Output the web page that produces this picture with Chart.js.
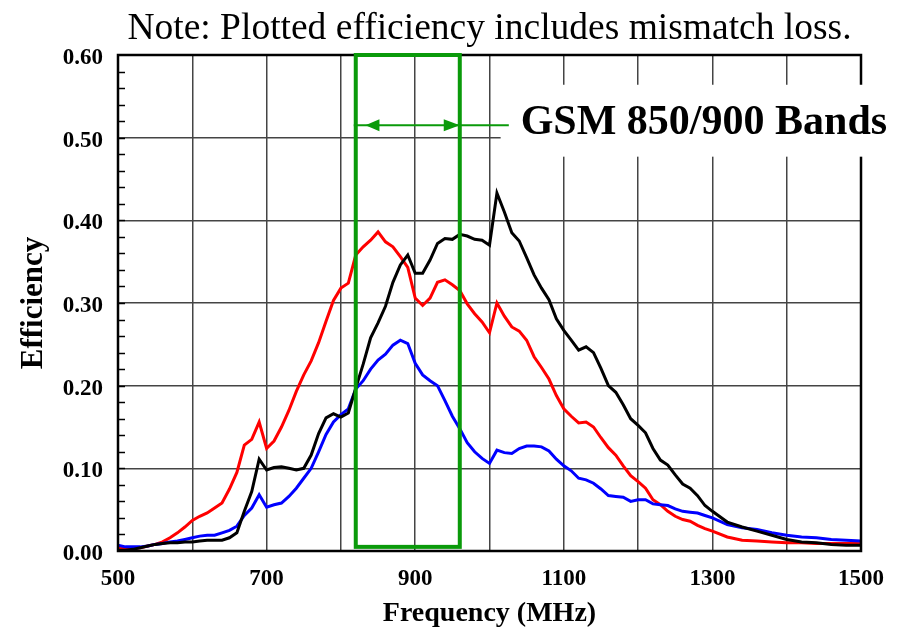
<!DOCTYPE html>
<html>
<head>
<meta charset="utf-8">
<script src="https://cdn.jsdelivr.net/npm/chart.js@4.4.1/dist/chart.umd.min.js"></script>
<style>
  html, body { margin: 0; padding: 0; background: #fff; }
  #wrap { width: 909px; height: 628px; }
</style>
</head>
<body>
<div id="wrap"><canvas id="myChart" width="909" height="628"></canvas></div>
<script>
// frequency points (MHz)
const freqMHz = [500, 510, 520, 530, 540, 550, 560, 570, 580, 590,
  600, 610, 620, 630, 640, 650, 660, 670, 680, 690,
  700, 710, 720, 730, 740, 750, 760, 770, 780, 790,
  800, 810, 820, 830, 840, 850, 860, 870, 880, 890,
  900, 910, 920, 930, 940, 950, 960, 970, 980, 990,
  1000, 1010, 1020, 1030, 1040, 1050, 1060, 1070, 1080, 1090,
  1100, 1110, 1120, 1130, 1140, 1150, 1160, 1170, 1180, 1190,
  1200, 1210, 1220, 1230, 1240, 1250, 1260, 1270, 1280, 1290,
  1300, 1320, 1340, 1360, 1380, 1400, 1420, 1440, 1460, 1480, 1500];

const effBlack = [0.001, 0.001, 0.002, 0.004, 0.006, 0.008, 0.009, 0.010, 0.010, 0.011,
  0.011, 0.012, 0.013, 0.013, 0.013, 0.016, 0.022, 0.048, 0.072, 0.111,
  0.098, 0.101, 0.102, 0.100, 0.098, 0.100, 0.116, 0.142, 0.161, 0.166,
  0.162, 0.167, 0.197, 0.226, 0.258, 0.276, 0.296, 0.325, 0.346, 0.358,
  0.336, 0.336, 0.352, 0.372, 0.378, 0.377, 0.383, 0.381, 0.377, 0.376,
  0.370, 0.433, 0.410, 0.385, 0.375, 0.355, 0.334, 0.318, 0.304, 0.281,
  0.267, 0.255, 0.243, 0.247, 0.240, 0.221, 0.200, 0.192, 0.177, 0.160,
  0.152, 0.143, 0.124, 0.110, 0.104, 0.092, 0.081, 0.076, 0.067, 0.055,
  0.048, 0.035, 0.029, 0.024, 0.019, 0.014, 0.011, 0.010, 0.008, 0.007, 0.007];

const effRed = [0.003, 0.003, 0.003, 0.004, 0.006, 0.008, 0.011, 0.016, 0.022, 0.029,
  0.037, 0.042, 0.046, 0.052, 0.058, 0.075, 0.095, 0.128, 0.135, 0.156,
  0.124, 0.133, 0.150, 0.170, 0.193, 0.213, 0.230, 0.252, 0.278, 0.303,
  0.318, 0.324, 0.358, 0.368, 0.376, 0.386, 0.374, 0.368, 0.356, 0.343,
  0.306, 0.297, 0.306, 0.325, 0.328, 0.322, 0.315, 0.299, 0.287, 0.277,
  0.264, 0.300, 0.284, 0.271, 0.266, 0.255, 0.235, 0.222, 0.208, 0.188,
  0.172, 0.163, 0.155, 0.156, 0.150, 0.137, 0.125, 0.116, 0.103, 0.091,
  0.084, 0.076, 0.062, 0.056, 0.048, 0.042, 0.038, 0.036, 0.031, 0.027,
  0.024, 0.017, 0.013, 0.012, 0.011, 0.010, 0.010, 0.009, 0.009, 0.009, 0.009];

const effBlue = [0.007, 0.005, 0.005, 0.005, 0.006, 0.008, 0.009, 0.011, 0.012, 0.014,
  0.016, 0.018, 0.019, 0.019, 0.022, 0.025, 0.030, 0.043, 0.052, 0.068,
  0.053, 0.056, 0.058, 0.066, 0.076, 0.088, 0.100, 0.120, 0.141, 0.156,
  0.165, 0.172, 0.196, 0.206, 0.220, 0.231, 0.238, 0.249, 0.255, 0.251,
  0.227, 0.213, 0.206, 0.200, 0.182, 0.163, 0.148, 0.131, 0.120, 0.112,
  0.106, 0.122, 0.119, 0.118, 0.124, 0.127, 0.127, 0.126, 0.121, 0.111,
  0.103, 0.097, 0.088, 0.086, 0.082, 0.075, 0.067, 0.066, 0.065, 0.060,
  0.062, 0.062, 0.057, 0.056, 0.055, 0.051, 0.048, 0.047, 0.046, 0.043,
  0.040, 0.032, 0.028, 0.026, 0.022, 0.019, 0.017, 0.016, 0.014, 0.013, 0.012];

const xTickLabels = [500, 700, 900, 1100, 1300, 1500];
const gsmBand = [820, 960];          // MHz, green box
const gsmLabel = 'GSM 850/900 Bands';

const serif = "'Liberation Serif', 'Times New Roman', serif";
const green = '#0a9a0a';

function pts(vals) {
  return freqMHz.map((f, i) => ({ x: f, y: vals[i] }));
}

// border, minor ticks and the GSM band marker
const bandPlugin = {
  id: 'gsmBand',
  afterDatasetsDraw(chart) {
    const ctx = chart.ctx;
    const a = chart.chartArea;
    const xs = chart.scales.x, ys = chart.scales.y;
    ctx.save();

    // minor ticks on the left axis
    ctx.strokeStyle = '#000';
    ctx.lineWidth = 1.5;
    for (let v = 0.02; v < 0.6; v += 0.02) {
      const py = Math.round(ys.getPixelForValue(v)) + 0.5;
      ctx.beginPath();
      ctx.moveTo(a.left, py);
      ctx.lineTo(a.left + 7, py);
      ctx.stroke();
    }

    // plot frame
    ctx.lineWidth = 2.5;
    ctx.strokeRect(a.left, a.top, a.right - a.left, a.bottom - a.top);

    // white box behind the label
    const bx = xs.getPixelForValue(1015);
    const by0 = ys.getPixelForValue(0.564);
    const by1 = ys.getPixelForValue(0.477);
    ctx.fillStyle = '#fff';
    ctx.fillRect(bx, by0, chart.width - bx, by1 - by0);

    // green band box
    const gx0 = xs.getPixelForValue(gsmBand[0]);
    const gx1 = xs.getPixelForValue(gsmBand[1]);
    const gTop = ys.getPixelForValue(0.6);
    const gBot = ys.getPixelForValue(0.005);
    ctx.strokeStyle = green;
    ctx.lineWidth = 4;
    ctx.strokeRect(gx0, gTop, gx1 - gx0, gBot - gTop);

    // double arrow
    const ay = ys.getPixelForValue(0.515);
    const lx0 = gx0 - 2;
    const lx1 = xs.getPixelForValue(1026);
    ctx.lineWidth = 2;
    ctx.beginPath();
    ctx.moveTo(lx0, ay);
    ctx.lineTo(lx1, ay);
    ctx.stroke();
    ctx.fillStyle = green;
    const tipL = xs.getPixelForValue(833);
    ctx.beginPath();
    ctx.moveTo(tipL, ay);
    ctx.lineTo(tipL + 14, ay - 6);
    ctx.lineTo(tipL + 14, ay + 6);
    ctx.closePath();
    ctx.fill();
    const tipR = gx1;
    ctx.beginPath();
    ctx.moveTo(tipR, ay);
    ctx.lineTo(tipR - 16, ay - 6);
    ctx.lineTo(tipR - 16, ay + 6);
    ctx.closePath();
    ctx.fill();

    // label
    ctx.fillStyle = '#000';
    ctx.font = 'bold 42px ' + serif;
    ctx.textAlign = 'left';
    ctx.textBaseline = 'middle';
    ctx.fillText(gsmLabel, xs.getPixelForValue(1042), ys.getPixelForValue(0.518));
    ctx.restore();
  }
};

new Chart(document.getElementById('myChart'), {
  type: 'line',
  data: {
    datasets: [
      { label: 'Black', data: pts(effBlack), borderColor: '#000000' },
      { label: 'Blue', data: pts(effBlue), borderColor: '#0000ff' },
      { label: 'Red', data: pts(effRed), borderColor: '#ff0000' }
    ]
  },
  options: {
    responsive: false,
    animation: false,
    layout: { padding: { top: 0, right: 48, bottom: 0, left: 0 } },
    elements: {
      line: { borderWidth: 3, tension: 0, fill: false },
      point: { radius: 0 }
    },
    plugins: {
      legend: { display: false },
      tooltip: { enabled: false },
      title: {
        display: true,
        fullSize: false,
        text: 'Note: Plotted efficiency includes mismatch loss.',
        color: '#000',
        font: { family: serif, size: 37.5, weight: 'normal', lineHeight: 1.2 },
        padding: { top: 6.5, bottom: 3.5 }
      }
    },
    scales: {
      x: {
        type: 'linear',
        min: 500,
        max: 1500,
        afterFit(s) { s.height = 77; },
        ticks: {
          stepSize: 100,
          autoSkip: false,
          maxRotation: 0,
          padding: 14,
          color: '#000',
          font: { family: serif, size: 23, weight: 'bold' },
          callback: v => xTickLabels.includes(v) ? String(v) : ''
        },
        grid: { color: '#444', lineWidth: 1.5, drawTicks: false },
        border: { display: false },
        title: {
          display: true,
          text: 'Frequency (MHz)',
          color: '#000',
          font: { family: serif, size: 28, weight: 'bold', lineHeight: 1 },
          padding: { top: 0, bottom: 0 }
        }
      },
      y: {
        min: 0,
        max: 0.6,
        afterFit(s) { s.width = 118; },
        ticks: {
          stepSize: 0.1,
          padding: 15,
          labelOffset: 3,
          color: '#000',
          font: { family: serif, size: 23, weight: 'bold' },
          callback: v => v.toFixed(2)
        },
        grid: { color: '#444', lineWidth: 1.5, drawTicks: false },
        border: { display: false },
        title: {
          display: true,
          text: 'Efficiency',
          color: '#000',
          font: { family: serif, size: 31, weight: 'bold', lineHeight: 1 },
          padding: { top: 18, bottom: 0 }
        }
      }
    }
  },
  plugins: [bandPlugin]
});
</script>
</body>
</html>
